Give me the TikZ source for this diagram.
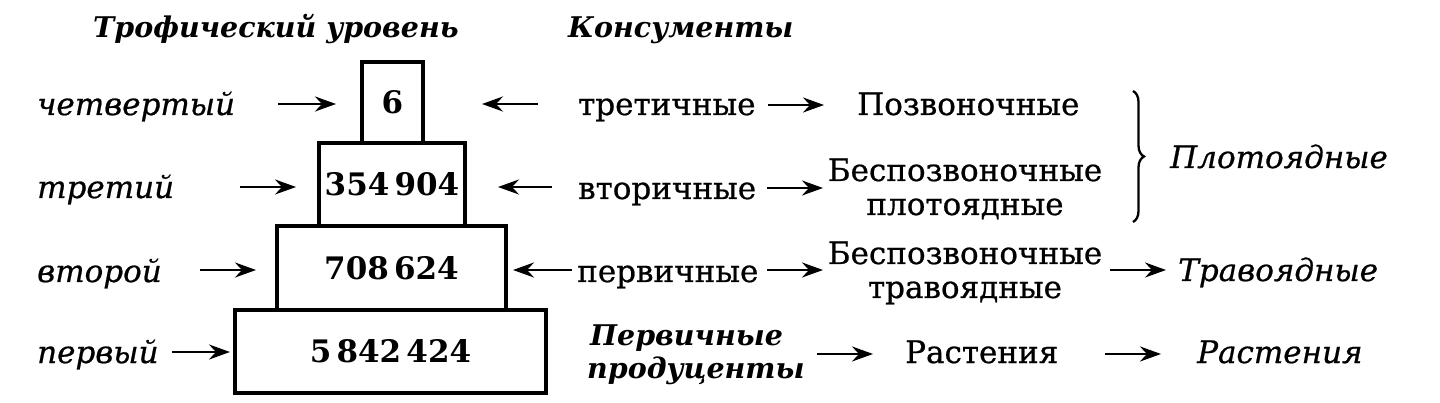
\documentclass[tikz,border=0pt]{standalone}
\usepackage{fontspec}
\setmainfont{DejaVu Serif}[UprightFeatures={FakeBold=0.7},ItalicFeatures={FakeBold=0.7}]
\usetikzlibrary{arrows.meta,decorations.pathreplacing}
\tikzset{
  txt/.style={inner sep=0pt, anchor=base west, font=\fontsize{31}{34}\selectfont},
  itx/.style={inner sep=0pt, anchor=base west, font=\fontsize{31}{34}\selectfont\itshape},
  hdr/.style={inner sep=0pt, anchor=base west, font=\fontsize{28.5}{33}\selectfont\bfseries\itshape},
  box/.style={draw, line width=3.5pt, inner sep=0pt, font=\fontsize{31}{36}\selectfont\bfseries},
  arr/.style={line width=2.8pt, -{Stealth[length=21pt,width=15pt,inset=7pt]}},
  brc/.style={line width=2.3pt, decorate, decoration={brace, amplitude=11pt}}
}
\begin{document}
\begin{tikzpicture}[x=1pt,y=-1pt]
\useasboundingbox (0,0) rectangle (1440,403);
% headers
\node[hdr] (h1) at (93,38) {Трофический уровень};
\node[hdr] (h2) at (568,38) {Консументы};
% pyramid
\node[box, minimum width=61pt, minimum height=81pt] (b4) at (392.5,102.5) {6};
\node[box, minimum width=146pt, minimum height=83pt] (b3) at (392,184.5) {354\,904};
\node[box, minimum width=229pt, minimum height=84pt] (b2) at (391.5,268) {708\,624};
\node[box, minimum width=311pt, minimum height=83pt] (b1) at (390.5,351.5) {5\,842\,424};
% levels
\node[itx] (l4) at (37,115) {четвертый};
\node[itx] (l3) at (37,198) {третий};
\node[itx] (l2) at (37,282) {второй};
\node[itx] (l1) at (37,363) {первый};
% consumers
\node[txt] (c3) at (578,115) {третичные};
\node[txt] (c2) at (578,199) {вторичные};
\node[txt] (c1) at (577,282) {первичные};
\node[hdr, align=left] (p0) at (587,378) {\hspace*{3pt}Первичные\\продуценты};
% groups
\node[txt] (g3) at (857,115) {Позвоночные};
\node[txt, anchor=base, align=center] (g2) at (965,215) {Беспозвоночные\\плотоядные};
\node[txt, anchor=base, align=center] (g1) at (965,298) {Беспозвоночные\\травоядные};
\node[txt] (g0) at (905,363) {Растения};
% classes
\node[itx] (k2) at (1170,168) {Плотоядные};
\node[itx] (k1) at (1178,281) {Травоядные};
\node[itx] (k0) at (1197,363) {Растения};
% arrow endpoints
\coordinate (a4s) at (278,104); \coordinate (a4e) at (336,104);
\coordinate (a3s) at (240,187); \coordinate (a3e) at (296,187);
\coordinate (a2s) at (200,270); \coordinate (a2e) at (256,270);
\coordinate (a1s) at (172,352); \coordinate (a1e) at (230,352);
\coordinate (r4s) at (538,104); \coordinate (r4e) at (482,104);
\coordinate (r3s) at (552,187); \coordinate (r3e) at (498,187);
\coordinate (r2s) at (572,270); \coordinate (r2e) at (513,270);
\coordinate (s4s) at (768,105); \coordinate (s4e) at (824,105);
\coordinate (s3s) at (767,188); \coordinate (s3e) at (823,188);
\coordinate (s2s) at (767,270); \coordinate (s2e) at (823,270);
\coordinate (s1s) at (817,354); \coordinate (s1e) at (873,354);
\coordinate (t2s) at (1110,270); \coordinate (t2e) at (1166,270);
\coordinate (t1s) at (1105,354); \coordinate (t1e) at (1161,354);
\draw[arr] (a4s) -- (a4e);
\draw[arr] (a3s) -- (a3e);
\draw[arr] (a2s) -- (a2e);
\draw[arr] (a1s) -- (a1e);
\draw[arr] (r4s) -- (r4e);
\draw[arr] (r3s) -- (r3e);
\draw[arr] (r2s) -- (r2e);
\draw[arr] (s4s) -- (s4e);
\draw[arr] (s3s) -- (s3e);
\draw[arr] (s2s) -- (s2e);
\draw[arr] (s1s) -- (s1e);
\draw[arr] (t2s) -- (t2e);
\draw[arr] (t1s) -- (t1e);
% brace
\coordinate (bt) at (1133,91); \coordinate (bb) at (1133,222);
\draw[brc] (bt) -- (bb);
\end{tikzpicture}
\end{document}
